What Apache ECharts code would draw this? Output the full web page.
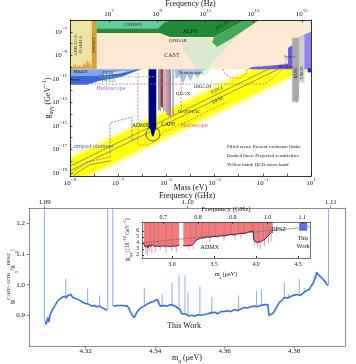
<!DOCTYPE html>
<html><head><meta charset="utf-8">
<script src="https://cdn.jsdelivr.net/npm/echarts/dist/echarts.min.js"></script>
<style>html,body{margin:0;padding:0;background:#fff}#c{width:356px;height:364px}</style>
</head><body><div id="c"></div>
<script>
// ================= DATA =================
// ---- Top panel: log10(mass/eV) vs log10(g / GeV^-1) ----
const massTickExps = [-9, -7, -5, -3, -1, 1];
const freqTickExps = [7, 9, 11, 13, 15];
const couplingTickExps = [-19, -17, -15, -13, -11, -9, -7];
const freqPerMassLog = 14.3834;   // log10(2.418e14 Hz/eV)

const qcdBandSoft = [[-9,-17.5],[1,-7.5],[1,-10.2],[-9,-20.2]];
const qcdBand     = [[-9,-17.8],[1,-7.8],[1,-9.9],[-9,-19.9]];
const ksvzLine    = [[-9,-18.41],[1,-8.41]];
const dfszLine    = [[-9,-18.82],[1,-8.82]];

const castRegion  = [[-9,-10.18],[1,-10.18],[1,-6],[-9,-6]];
const abraRegion  = [[-9,-10.15],[-8.1,-10.15],[-8.1,-6],[-9,-6]];
const abraPeaks   = [[-9,-10.15],[-8.95,-9.95],[-8.88,-10.05],[-8.8,-9.7],[-8.74,-10.0],[-8.6,-9.85],[-8.5,-10.02],[-8.42,-9.6],[-8.36,-9.9],[-8.3,-9.3],[-8.25,-9.75],[-8.2,-9.45],[-8.15,-9.9],[-8.1,-9.8],[-8.1,-10.15]];
const shaftRegion = [[-8.1,-10.15],[-7.89,-10.15],[-7.89,-6],[-8.1,-6]];
const crowsRegion = [[-7.89,-6],[-4.77,-6],[-5.06,-6.17],[-5.35,-6.72],[-7.89,-6.72]];
const alpsRegion  = [[-7.89,-6.72],[-5.35,-6.72],[-5.06,-6.17],[-4.77,-6],[-1.70,-6],[-3.02,-7.44],[-4.85,-7.44],[-5.27,-7.10],[-7.89,-7.10]];
const pvlasRegion = [[-3.02,-7.44],[-1.70,-6],[-1.15,-6],[-2.3,-7.6],[-2.9,-8.3],[-3.1,-7.9]];
const lswHatch    = [[-4.4,-7.6],[-3.2,-7.5],[-2.9,-8.3],[-2.3,-7.6],[-1.9,-7.1],[-2.6,-8.6],[-3.1,-9.6],[-3.3,-10.7],[-3.6,-10.7],[-3.9,-9.7],[-4.3,-8.5]];
const mrkRegion   = [[-9,-10.18],[-6.22,-10.18],[-6.63,-10.42],[-7.34,-10.59],[-7.96,-10.74],[-9,-10.74]];
const fermiRegion = [[-9,-10.74],[-7.96,-10.74],[-7.34,-10.59],[-6.63,-10.42],[-6.22,-10.18],[-6.05,-10.18],[-6.9,-10.85],[-7.76,-11.15],[-8.3,-11.5],[-9,-11.5]];
const hessRegion  = [[-7.6,-10.48],[-6.6,-10.3],[-6.9,-10.55],[-7.6,-10.7]];
const hbStarsRegion = [[-1.61,-10.18],[-1.45,-10.0],[-1.0,-9.93],[-0.5,-9.85],[-0.1,-9.76],[0.05,-9.7],[0.05,-8.35],[0.25,-8.1],[0.25,-10.18]];
const solarRegion = [[0.55,-10.18],[0.55,-7.5],[0.75,-7.2],[1,-7.0],[1,-10.18]];
const museRegion  = [[0.22,-7.5],[0.5,-7.5],[0.5,-12.8],[0.42,-13.05],[0.3,-12.9],[0.22,-13.0]];
const vimosRegion = [[0.5,-7.35],[0.73,-7.35],[0.73,-11.3],[0.5,-11.3]];
const telescopeBlue = [[0.86,-10.1],[1,-10.1],[1,-10.45],[0.86,-10.45]];
const admxRegion  = [[-5.74,-10.18],[-5.42,-10.18],[-5.42,-15.1],[-5.48,-15.5],[-5.54,-15.9],[-5.6,-15.85],[-5.66,-15.3],[-5.74,-15.1]];
const cappGray    = [[-5.35,-10.18],[-5.22,-10.18],[-5.22,-13.8],[-5.35,-13.6]];
const cappMaroon  = [[-5.24,-10.18],[-5.14,-10.18],[-5.14,-13.5],[-5.24,-13.3]];
const haystacGray = [[-5.14,-10.18],[-4.98,-10.18],[-4.98,-14.0],[-5.06,-13.7],[-5.14,-13.9]];
const tasehPink   = [[-5.0,-10.18],[-4.89,-10.18],[-4.89,-14.2],[-5.0,-14.0]];
const grayNarrow  = [[-4.89,-10.18],[-4.81,-10.18],[-4.81,-14.3],[-4.89,-14.1]];
const quaxBar     = [[-4.74,-10.18],[-4.71,-10.18],[-4.71,-14.1],[-4.74,-14.1]];
const neutronStarRegion = [[-4.68,-10.18],[-3.45,-10.18],[-3.55,-10.45],[-3.7,-10.95],[-3.85,-10.55],[-4.0,-11.2],[-4.15,-10.6],[-4.3,-11.4],[-4.45,-10.7],[-4.6,-11.0]];
const admxCircleCenter = [-5.56,-15.69];

const haloscopeProj  = [[-6.18,-10.18],[-6.18,-16.62],[-5.76,-16.62],[-5.55,-16.35],[-5.3,-16.0],[-5.14,-15.5],[-4.8,-15.25],[-4.5,-14.9],[-4.1,-14.6],[-3.6,-14.1],[-3.1,-13.55],[-2.5,-13.0]];
const haloscopeVert  = [[-4.39,-10.18],[-4.39,-13.9]];
const haloscopeBump  = [[-2.65,-10.18],[-2.57,-10.59],[-2.3,-10.93],[-1.95,-10.93],[-1.70,-10.6],[-1.66,-10.18]];
const helioscopeProj = [[-9,-11.44],[-0.9,-11.44],[-0.5,-10.8],[-0.2,-10.2],[0.13,-8.8]];
const iaxoProj       = [[-7.76,-10.82],[-4.3,-10.82],[-3.9,-10.7],[-3.6,-10.45],[-3.4,-10.18]];
const lumpedProj     = [[-8.92,-19.0],[-8.29,-18.06],[-7.34,-17.64],[-7.34,-14.75],[-6.43,-14.24],[-6.43,-16.2],[-6.18,-16.03]];
const lumpedGray     = [[-8.85,-19.2],[-8.2,-18.3],[-7.3,-17.95]];

// ---- Bottom panel: ratio vs axion mass (ueV) ----
const ratioMass = [4.30843,4.30866,4.30891,4.30914,4.30943,4.30971,4.31009,4.31057,4.31106,4.31143,4.31200,4.31249,4.31314,4.31391,4.31449,4.31486,4.31534,4.31571,4.31629,4.31700,4.31771,4.31843,4.31914,4.31971,4.32029,4.32106,4.32171,4.32249,4.32314,4.32400,4.32437,4.32514,4.32580,4.32614,
 4.32700,
 4.32800,4.32857,4.32914,4.32971,4.33057,4.33114,4.33200,4.33257,4.33294,4.33343,4.33391,4.33429,4.33471,4.33534,4.33600,4.33677,4.33743,4.33800,4.33857,4.33943,4.34000,4.34057,4.34100,4.34143,4.34200,4.34257,4.34343,4.34429,4.34534,4.34600,4.34657,4.34714,4.34757,4.34800,4.34857,4.34914,4.34971,4.35057,4.35143,4.35229,4.35314,4.35429,4.35514,4.35600,4.35714,4.35800,4.35886,4.36000,4.36086,4.36171,4.36286,4.36371,4.36457,4.36571,4.36657,4.36743,4.36857,4.36943,4.37029,4.37143,4.37200,4.37243,4.37271,4.37314,4.37371,4.37429,4.37486,4.37571,4.37657,4.37714,4.37800,4.37857,4.37914,4.38000,4.38086,4.38171,4.38229,4.38286,4.38343,4.38429,4.38486,4.38543,4.38571,4.38614,4.38643,4.38671,4.38714,4.38771,4.38814,4.38857,4.38900,4.38943,4.38971];
const ratioValue = [0.880,0.871,0.885,0.893,0.878,0.900,0.910,0.920,0.930,0.935,0.948,0.952,0.958,0.962,0.957,0.965,0.962,0.968,0.958,0.955,0.952,0.948,0.942,0.940,0.938,0.935,0.930,0.932,0.928,0.930,0.926,0.922,0.919,0.916,
 '-',
 0.930,0.926,0.932,0.935,0.932,0.938,0.930,0.920,0.910,0.900,0.893,0.900,0.910,0.919,0.925,0.930,0.935,0.938,0.942,0.945,0.950,0.952,0.948,0.930,0.928,0.932,0.930,0.935,0.932,0.928,0.925,0.919,0.905,0.900,0.905,0.900,0.898,0.900,0.897,0.902,0.900,0.903,0.905,0.908,0.910,0.905,0.912,0.913,0.915,0.912,0.919,0.915,0.920,0.926,0.924,0.928,0.930,0.928,0.932,0.935,0.938,0.935,0.900,0.895,0.905,0.913,0.925,0.942,0.950,0.958,0.956,0.960,0.962,0.966,0.968,0.965,0.970,0.974,0.980,0.984,0.995,1.005,1.010,1.025,1.040,1.035,1.030,1.026,1.020,1.016,1.008,1.000,0.998];
// spikes: [mass, low, high]
const ratioSpikes = [[4.30814,0.88,1.30],[4.32637,0.918,1.30],[4.32780,0.930,1.30],[4.38986,0.998,1.30],
 [4.31429,0.960,1.020],[4.32057,0.937,0.987],[4.32400,0.930,0.965],[4.33686,0.930,0.990],[4.34200,0.928,0.970],
 [4.34486,0.932,1.006],[4.34686,0.920,1.030],[4.34857,0.905,1.030],[4.34943,0.900,0.975],[4.35286,0.900,0.994],
 [4.35629,0.908,0.960],[4.36400,0.918,0.965],[4.36914,0.929,0.980],[4.37057,0.932,0.985],[4.37714,0.958,1.006],
 [4.37829,0.958,0.970],[4.38143,0.966,1.020],[4.38286,0.974,0.990],[4.38571,1.010,1.030]];
const bottomMassTicks = [4.32, 4.34, 4.36, 4.38];
const bottomFreqTicks = [1.09, 1.10, 1.11];
const ratioTicks = [0.9, 1.0, 1.1, 1.2];

// ---- Inset: ADMX limits, g in 1e-16 GeV^-1 vs mass (ueV) ----
const admxLimitA = [[2.665,3.9],[2.67,3.7],[2.685,3.3],[2.70,3.6],[2.715,3.2],[2.73,3.7],[2.745,3.4],[2.76,3.8],[2.78,3.5],[2.80,3.45],[2.83,3.5],[2.86,3.4],[2.89,3.55],[2.92,3.45],[2.95,3.5],[2.98,3.4],[3.01,3.5],[3.04,3.45],[3.07,3.6],[3.085,3.55]];
const admxLimitB = [[3.135,3.6],[3.16,3.5],[3.19,3.6],[3.22,3.55],[3.25,3.75],[3.27,4.1],[3.29,4.5],[3.31,4.6],[3.34,4.8],[3.38,4.85],[3.42,5.0],[3.46,4.95],[3.50,5.1],[3.54,5.05],[3.58,5.2],[3.62,5.15],[3.66,5.3],[3.70,5.4],[3.74,5.35],[3.78,5.5],[3.82,5.6],[3.86,5.55],[3.90,5.8],[3.94,5.9],[3.965,6.0],[3.975,4.6],[3.99,4.2],[4.02,4.1],[4.05,4.2],[4.08,4.4],[4.11,4.7],[4.14,5.1],[4.17,5.6],[4.19,5.9],[4.20,5.7]];
const admxDips = [[2.69,3.5,2.2],[2.71,3.4,1.8],[2.73,3.6,2.6],[2.76,3.6,2.3],[2.80,3.4,2.5],[2.86,3.4,2.8],[2.93,3.45,2.4],[3.00,3.45,2.7],[3.05,3.5,2.5],[3.20,3.55,2.9],[3.25,3.7,3.0],[3.45,4.95,4.2],[3.62,5.15,4.4],[3.75,5.4,4.6],[3.82,5.6,4.8],[3.98,4.4,3.6],[4.02,4.1,3.3],[4.05,4.2,3.0],[4.10,4.6,3.4],[4.15,5.2,3.9],[4.18,5.7,4.3]];
const admxGrayLines = [[2.74,3.5],[2.79,3.5],[2.84,3.5],[2.93,3.45],[3.00,3.45],[3.22,3.55],[3.29,4.5],[3.36,4.8],[3.44,5.0],[3.52,5.1],[3.62,5.15],[3.70,5.4],[3.79,5.5],[3.86,5.55],[3.95,5.9],[3.97,4.5],[4.03,4.1],[4.09,4.5],[4.13,5.0],[4.16,5.4]];
const insetDfsz = [[2.643,4.05],[4.643,6.7]];
const thisWorkBox = [[4.515,6.15],[4.61,7.5]];
const insetMassTicks = [3.0, 3.5, 4.0, 4.5];
const insetFreqTicks = [0.7, 0.8, 0.9, 1.0, 1.1];
const insetGTicks = [2, 3, 4, 5, 6];
const ueVperGHz = 4.1357;

// ================= CHART =================
const F = '"Liberation Serif","DejaVu Serif",serif';
const rich = (fs) => ({
  b:{fontFamily:F,fontSize:fs,lineHeight:fs+5,color:'#111'},
  s:{fontFamily:F,fontSize:Math.round(fs*0.7),verticalAlign:'top',color:'#111'},
  u:{fontFamily:F,fontSize:Math.round(fs*0.7),verticalAlign:'bottom',color:'#111'}
});
const pow10 = v => '{b|10}{s|' + (v < 0 ? '−' + (-v) : v) + '}';

const G0 = {left:70, top:20, width:241, height:156};
const G1 = {left:29, top:208, width:316, height:138};
const G2 = {left:142, top:222, width:168, height:36};

function P(pts, fill, op){ return {kind:'poly', pts, fill, op}; }
function L(pts, stroke, lw, dash){ return {kind:'line', pts, stroke, lw, dash}; }
function T(at, text, color, fs, rot, align){ return {kind:'text', at, text, color, fs, rot:rot||0, align:align||'center'}; }

function customSeries(xi, yi, items, z){
  return {
    type:'custom', xAxisIndex:xi, yAxisIndex:yi, clip:true, silent:true, z:z||2,
    data: items.map((s,i)=>{ const p = s.pts ? s.pts[0] : (s.at || s.c); return [p[0], p[1], i]; }),
    encode:{x:0, y:1},
    renderItem:(params, api)=>{
      const s = items[params.dataIndex];
      const cs = params.coordSys;
      let el;
      if (s.kind === 'poly') {
        el = {type:'polygon', shape:{points:s.pts.map(p=>api.coord(p))}, style:{fill:s.fill, opacity:s.op==null?1:s.op}};
      } else if (s.kind === 'line') {
        el = {type:'polyline', shape:{points:s.pts.map(p=>api.coord(p))}, style:{fill:null, stroke:s.stroke, lineWidth:s.lw, lineDash:s.dash||null}};
      } else if (s.kind === 'circle') {
        const c = api.coord(s.c);
        el = {type:'circle', shape:{cx:c[0], cy:c[1], r:s.r}, style:{fill:null, stroke:s.stroke, lineWidth:s.lw}};
      } else if (s.kind === 'text') {
        const c = api.coord(s.at);
        return {type:'text', x:c[0], y:c[1], rotation:s.rot, style:{text:s.text, fill:s.color, fontSize:s.fs, fontFamily:F, align:s.align, verticalAlign:'middle'}};
      }
      return {type:'group', children:[el], clipPath:{type:'rect', shape:{x:cs.x, y:cs.y, width:cs.width, height:cs.height}}};
    }
  };
}

// top panel layers (order = drawing order)
const topItems = [
  P(qcdBandSoft, '#ffff9c'),
  P(qcdBand, '#ffff14'),
  L(ksvzLine, '#555', 0.6),
  L(dfszLine, '#555', 0.6),
  P(castRegion, '#fce9d3'),
  P(abraRegion, '#efe4a4'),
  P(abraPeaks, '#dba545'),
  P(shaftRegion, '#d7a12d'),
  P(lswHatch, '#c6ead0', 0.6),
  P(crowsRegion, '#63cc9f'),
  P(alpsRegion, '#238a3b'),
  P(pvlasRegion, '#43a95c'),
  P(mrkRegion, '#7ea7e6'),
  P(fermiRegion, '#3d67d6'),
  P(hessRegion, '#c9dbf5'),
  P(neutronStarRegion, '#a9c1e2'),
  P(hbStarsRegion, '#6c5ce0'),
  P(solarRegion, '#8f84ee'),
  P(museRegion, '#a9a9a9'),
  P(vimosRegion, '#cfcfcf'),
  P(telescopeBlue, '#1530ff'),
  P(cappGray, '#9c9c9c'),
  P(cappMaroon, '#a8324e'),
  P(haystacGray, '#b9b9b9'),
  P(tasehPink, '#d98ba0'),
  P(grayNarrow, '#8c8c8c'),
  P(quaxBar, '#3838b8'),
  P(admxRegion, '#00007f'),
  {kind:'circle', c:admxCircleCenter, r:7, stroke:'#222', lw:0.7},
  L(haloscopeProj, '#f05555', 0.8, [2,1.5]),
  L(haloscopeVert, '#f05555', 0.8, [2,1.5]),
  L(haloscopeBump, '#f05555', 0.8, [2,1.5]),
  L(helioscopeProj, '#a466ee', 0.8, [2,1.5]),
  L(iaxoProj, '#76c98a', 0.8, [2,1.5]),
  L(lumpedProj, '#5b62e6', 0.8, [2,1.5]),
  L(lumpedGray, '#555', 0.6),
  T([-8.67,-8.1], 'ABRACA-\nDABRA', '#333', 5, Math.PI/2),
  T([-8.0,-8.1], 'SHAFT', '#333', 5, Math.PI/2),
  T([-6.39,-6.42], 'CROWS', '#133', 5),
  T([-4.02,-6.93], 'ALPS', '#022', 6),
  T([-2.65,-6.4], 'PVLAS', '#022', 5, 0.6),
  T([-4.52,-7.78], 'QNDAR', '#222', 5),
  T([-4.77,-8.97], 'CAST', '#222', 6),
  T([-8.55,-10.42], 'Mrk421', '#112', 4.5),
  T([-8.82,-11.1], 'Fermi', '#112', 4.5),
  T([-7.42,-10.5], 'HESS', '#223', 4.5),
  T([-7.4,-11.12], 'IAXO', '#4fae63', 5.5),
  T([-7.3,-11.78], 'Helioscope', '#a466ee', 6.5),
  T([-4.0,-10.45], 'Neutron stars', '#334', 4.5),
  T([-4.31,-12.29], 'QUAX', '#222', 5),
  T([-3.5,-11.69], 'ORGAN', '#222', 5),
  T([-4.05,-13.82], 'HAYSTAC', '#222', 5),
  T([-4.93,-14.84], 'CAPP', '#222', 5.5),
  T([-6.08,-15.0], 'ADMX', '#222', 5.5),
  T([-3.85,-14.92], 'Haloscope', '#f05555', 6.5),
  T([-8.1,-16.7], 'Lumped element', '#5b62e6', 6.5),
  T([0.12,-9.18], 'Solar ν', '#222', 4),
  T([-0.05,-10.02], 'HB Stars', '#222', 4),
  T([0.36,-10.5], 'MUSE', '#222', 4, Math.PI/2),
  T([0.62,-10.5], 'VIMOS', '#222', 4, Math.PI/2),
  T([-2.9,-11.95], 'KSVZ', '#222', 5, 0.45),
  T([-2.86,-12.8], 'DFSZ', '#222', 5, 0.45),
  T([-2.49,-16.79], 'Filled areas: Present exclusion limits', '#111', 5, 0, 'left'),
  T([-2.49,-17.56], 'Dashed lines: Projected sensitivities', '#111', 5, 0, 'left'),
  T([-2.49,-18.3], 'Yellow band: QCD axion band', '#111', 5, 0, 'left')
];

// bottom panel spikes + text
const bottomItems = ratioSpikes.map(s => L([[s[0], s[1]], [s[0], s[2]]], '#7ea2f4', 0.9))
  .concat([T([4.3483, 0.8645], 'This Work', '#111', 8)]);

// inset
const insetTop = 7.5;
const closeUp = seg => seg.concat([[seg[seg.length-1][0], insetTop], [seg[0][0], insetTop]]);
const insetItems = [
  P(closeUp(admxLimitA), '#f47b7b'),
  P(closeUp(admxLimitB), '#f47b7b')
].concat(admxGrayLines.map(g => L([[g[0], insetTop], [g[0], g[1]]], 'rgba(110,110,110,0.7)', 0.5)))
 .concat(admxDips.map(d => L([[d[0], d[1]], [d[0], d[2]]], '#b97a96', 0.7)))
 .concat([
  L(insetDfsz, '#777', 0.7),
  L(admxLimitA, '#5c1436', 1.0),
  L(admxLimitB, '#5c1436', 1.0),
  P([[thisWorkBox[0][0], thisWorkBox[0][1]], [thisWorkBox[1][0], thisWorkBox[0][1]], [thisWorkBox[1][0], thisWorkBox[1][1]], [thisWorkBox[0][0], thisWorkBox[1][1]]], '#5d6cf2'),
  L([[thisWorkBox[0][0], thisWorkBox[0][1]], [thisWorkBox[1][0], thisWorkBox[0][1]]], '#2233bb', 0.8),
  T([3.45, 3.2], 'ADMX', '#111', 6),
  T([4.27, 6.3], 'DFSZ', '#111', 6),
  T([4.56, 4.7], 'This', '#111', 6),
  T([4.56, 3.4], 'Work', '#111', 6)
]);

const axBase = (extra) => Object.assign({
  type:'value', z:10, splitLine:{show:false}, nameMoveOverlap:false,
  axisLine:{show:true, onZero:false, lineStyle:{color:'#000', width:0.8}},
  axisTick:{show:true, length:2.5, lineStyle:{color:'#000', width:0.6}},
  axisLabel:{fontFamily:F, fontSize:7, color:'#111'},
  nameTextStyle:{fontFamily:F, fontSize:8, color:'#111'}
}, extra);

const gray = '#8a8a8a';
const option = {
  animation:false,
  backgroundColor:'#fff',
  grid:[
    Object.assign({show:false, containLabel:false, outerBoundsMode:'none'}, G0),
    Object.assign({show:false, containLabel:false, outerBoundsMode:'none'}, G1),
    Object.assign({show:true, backgroundColor:'#fff', borderWidth:0, containLabel:false, outerBoundsMode:'none'}, G2)
  ],
  xAxis:[
    axBase({gridIndex:0, position:'bottom', min:-9, max:1,
      axisTick:{show:true, inside:true, length:2.5, customValues:[-9,-8,-7,-6,-5,-4,-3,-2,-1,0,1], lineStyle:{color:'#000',width:0.6}},
      axisLabel:{customValues:massTickExps, formatter:pow10, rich:rich(7), margin:1},
      name:'Mass (eV)', nameLocation:'middle', nameGap:8}),
    axBase({gridIndex:0, position:'top', min:-9+freqPerMassLog, max:1+freqPerMassLog,
      axisTick:{show:true, inside:true, length:2.5, customValues:freqTickExps, lineStyle:{color:'#000',width:0.6}},
      axisLabel:{customValues:freqTickExps, formatter:pow10, rich:rich(7), margin:0},
      name:'Frequency (Hz)', nameLocation:'middle', nameGap:12}),
    axBase({gridIndex:1, position:'bottom', min:4.3037, max:4.3946,
      axisLine:{show:true, onZero:false, lineStyle:{color:gray, width:1}},
      axisTick:{show:true, length:2.5, customValues:bottomMassTicks, lineStyle:{color:gray}},
      axisLabel:{customValues:bottomMassTicks, formatter:v=>v.toFixed(2), fontFamily:F, fontSize:7, color:'#111', margin:2},
      name:'{b|m}{u|a}{b| (μeV)}', nameLocation:'middle', nameGap:5, nameTextStyle:{rich:rich(8)}}),
    axBase({gridIndex:1, position:'top', min:1.0889, max:1.111,
      axisLine:{show:true, onZero:false, lineStyle:{color:gray, width:1}},
      axisTick:{show:true, length:2.5, customValues:bottomFreqTicks, lineStyle:{color:gray}},
      axisLabel:{customValues:bottomFreqTicks, formatter:v=>v.toFixed(2), fontFamily:F, fontSize:7, color:'#111', margin:2},
      name:'Frequency (GHz)', nameLocation:'middle', nameGap:8}),
    axBase({gridIndex:2, position:'bottom', min:2.643, max:4.643,
      axisLine:{show:true, onZero:false, lineStyle:{color:'#333', width:0.7}},
      axisTick:{show:true, inside:true, length:2, customValues:insetMassTicks, lineStyle:{color:'#333'}},
      axisLabel:{customValues:insetMassTicks, formatter:v=>v.toFixed(1), fontFamily:F, fontSize:6, color:'#111', margin:3},
      name:'{b|m}{u|a}{b| (μeV)}', nameLocation:'middle', nameGap:11, nameTextStyle:{rich:rich(6)}}),
    axBase({gridIndex:2, position:'top', min:2.643/ueVperGHz, max:4.643/ueVperGHz,
      axisLine:{show:true, onZero:false, lineStyle:{color:'#333', width:0.7}},
      axisTick:{show:true, inside:true, length:2, customValues:insetFreqTicks, lineStyle:{color:'#333'}},
      axisLabel:{customValues:insetFreqTicks, formatter:v=>v.toFixed(1), fontFamily:F, fontSize:6, color:'#111', margin:2},
      name:'Frequency (GHz)', nameLocation:'middle', nameGap:9, nameTextStyle:{fontFamily:F, fontSize:7, color:'#111'}})
  ],
  yAxis:[
    axBase({gridIndex:0, position:'left', min:-19.25, max:-6,
      axisTick:{show:true, inside:true, length:2.5, customValues:[-19,-18,-17,-16,-15,-14,-13,-12,-11,-10,-9,-8,-7,-6], lineStyle:{color:'#000',width:0.6}},
      axisLabel:{customValues:couplingTickExps, formatter:pow10, rich:rich(7), margin:3},
      name:'{b|g}{u|aγγ}{b| (GeV}{s|−1}{b|)}', nameLocation:'middle', nameGap:16, nameTextStyle:{rich:rich(8)}}),
    axBase({gridIndex:1, position:'left', min:0.8, max:1.25,
      axisLine:{show:true, onZero:false, lineStyle:{color:gray, width:1}},
      axisTick:{show:true, length:2.5, customValues:ratioTicks, lineStyle:{color:gray}},
      axisLabel:{customValues:ratioTicks, formatter:v=>v.toFixed(1), fontFamily:F, fontSize:7, color:'#111', margin:4},
      name:'{b||g}{s|CAPP−12TB}{u|γ}{b|/g}{s|DFSZ}{u|γ}{b||}', nameLocation:'middle', nameGap:11, nameTextStyle:{rich:rich(7)}}),
    axBase({gridIndex:2, position:'left', min:1.5, max:7.5,
      axisLine:{show:true, onZero:false, lineStyle:{color:'#333', width:0.7}},
      axisTick:{show:true, inside:true, length:2, customValues:insetGTicks, lineStyle:{color:'#333'}},
      axisLabel:{customValues:insetGTicks, formatter:v=>String(v), fontFamily:F, fontSize:5.5, color:'#111', margin:3},
      name:'{b||g}{u|aγγ}{b|| [10}{s|−16}{b| GeV}{s|−1}{b|]}', nameLocation:'middle', nameGap:9, nameTextStyle:{rich:rich(5.5)}}),
    axBase({gridIndex:0, position:'right', min:-19.25, max:-6, axisTick:{show:false}, axisLabel:{show:false}}),
    axBase({gridIndex:1, position:'right', min:0.8, max:1.25, axisLine:{show:true, onZero:false, lineStyle:{color:gray, width:1}}, axisTick:{show:false}, axisLabel:{show:false}}),
    axBase({gridIndex:2, position:'right', min:1.5, max:7.5, axisLine:{show:true, onZero:false, lineStyle:{color:'#333', width:0.7}}, axisTick:{show:false}, axisLabel:{show:false}})
  ],
  series:[
    customSeries(0, 0, topItems, 2),
    customSeries(2, 1, bottomItems, 2),
    {type:'line', xAxisIndex:2, yAxisIndex:1, z:3, showSymbol:false, symbol:'none', connectNulls:false, clip:true,
     lineStyle:{color:'#3a6cf0', width:1.6}, data: ratioMass.map((m,i)=>[m, ratioValue[i]])},
    customSeries(4, 2, insetItems, 4)
  ]
};
const chart = echarts.init(document.getElementById('c'), null, {width:356, height:364});
chart.setOption(option);
</script></body></html>
